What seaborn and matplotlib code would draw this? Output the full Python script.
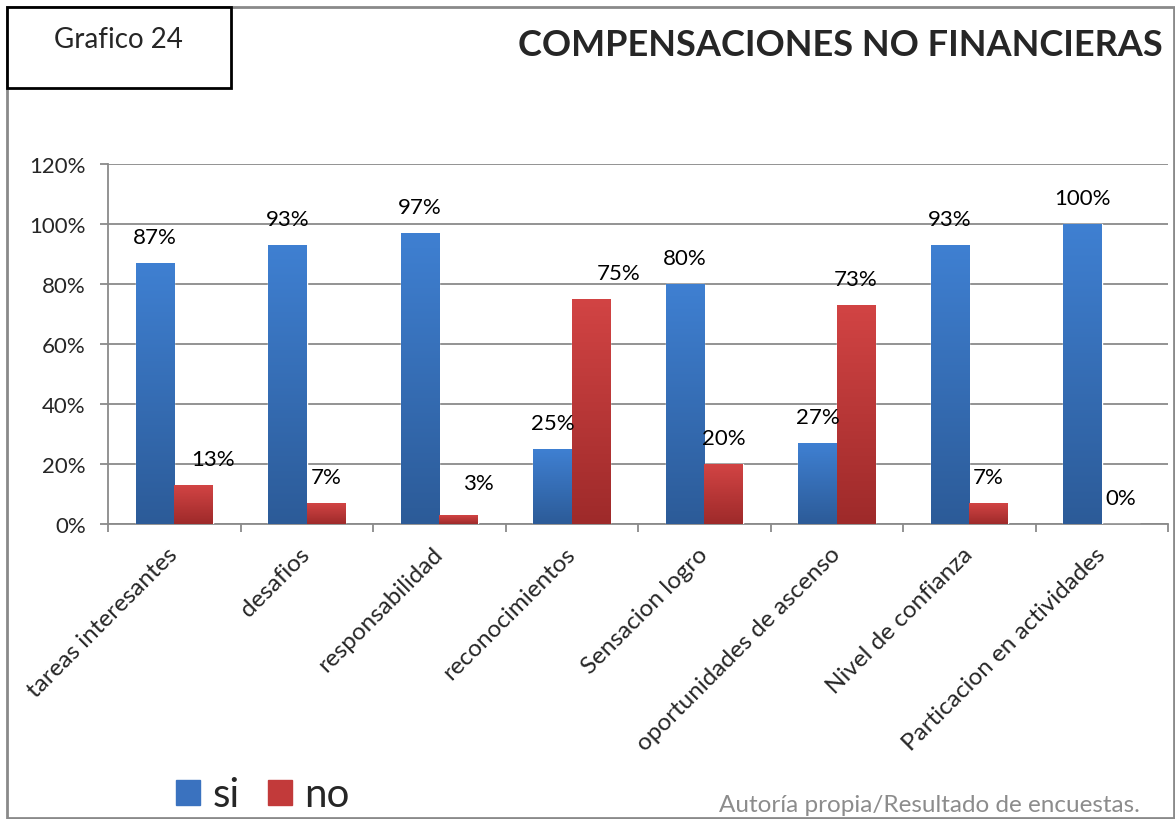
import numpy as np
import pandas as pd
import matplotlib
matplotlib.use("Agg")
import matplotlib.pyplot as plt
import matplotlib.patches as mpatches
from matplotlib.colors import LinearSegmentedColormap
import seaborn as sns

# Survey results per non-financial compensation item (percent of respondents)
categories = [
    "tareas interesantes", "desafios", "responsabilidad", "reconocimientos",
    "Sensacion logro", "oportunidades de ascenso", "Nivel de confianza",
    "Particacion en actividades",
]
si_values = [87, 93, 97, 25, 80, 27, 93, 100]
no_values = [13, 7, 3, 75, 20, 73, 7, 0]
series_names = ["si", "no"]
y_ticks = [0, 20, 40, 60, 80, 100, 120]

title_text = "COMPENSACIONES NO FINANCIERAS"
box_text = "Grafico 24"
source_text = "Autoría propia/Resultado de encuestas."

df = pd.DataFrame({
    "categoria": categories * 2,
    "valor": si_values + no_values,
    "serie": [series_names[0]] * len(categories) + [series_names[1]] * len(categories),
})

sns.set_theme(style="white")
plt.rcParams["font.family"] = ["Lato", "DejaVu Sans"]

W, H = 1175, 820
fig = plt.figure(figsize=(W / 100, H / 100), dpi=100)
fig.patch.set_facecolor("white")


def px(x, y):
    return x / W, 1 - y / H


# Plot area
x0, x1, y0, y1 = 108, 1168, 165, 525
ax = fig.add_axes([x0 / W, (H - y1) / H, (x1 - x0) / W, (y1 - y0) / H])

colors = {"si": "#3a72bf", "no": "#c23a3a"}
sns.barplot(data=df, x="categoria", y="valor", hue="serie", order=categories,
            hue_order=series_names, palette=colors, width=0.58, saturation=1,
            legend=False, ax=ax, zorder=3)

# Vertical gradient on each bar
grad = {
    "si": LinearSegmentedColormap.from_list("si", ["#2c5b98", "#3f80d2"]),
    "no": LinearSegmentedColormap.from_list("no", ["#9e2a2a", "#d24444"]),
}
gimg = np.linspace(0, 1, 256).reshape(-1, 1)
for name, cont in zip(series_names, ax.containers):
    for bar in cont:
        bx, by = bar.get_x(), bar.get_y()
        bw, bh = bar.get_width(), bar.get_height()
        if bh <= 0:
            continue
        im = ax.imshow(gimg, cmap=grad[name], origin="lower", aspect="auto",
                       extent=[bx, bx + bw, by, by + bh], zorder=3.5)
        im.set_clip_path(bar)
ax.set_xlim(-0.5, len(categories) - 0.5)
ax.set_ylim(0, 120)

# Value labels above bars (a few nudged sideways to stay clear of neighbours)
nudge = {("no", 0): (14, 0), ("no", 2): (14, 4), ("no", 3): (20, 0)}
for name, cont, vals in zip(series_names, ax.containers, [si_values, no_values]):
    for i, (bar, v) in enumerate(zip(cont, vals)):
        dx, dy = nudge.get((name, i), (0, 0))
        ax.annotate(f"{v}%", (bar.get_x() + bar.get_width() / 2, v),
                    xytext=(dx, 19 + dy), textcoords="offset points",
                    ha="center", va="center", fontsize=16, color="black",
                    zorder=5, annotation_clip=False)

# Gridlines and axes
ax.set_yticks(y_ticks)
ax.set_yticklabels([f"{t}%" for t in y_ticks])
ax.yaxis.grid(True, color="#8a8a8a", linewidth=1.3, zorder=0)
ax.xaxis.grid(False)
for s in ["top", "right"]:
    ax.spines[s].set_visible(False)
for s in ["left", "bottom"]:
    ax.spines[s].set_color("#8a8a8a")
    ax.spines[s].set_linewidth(1.3)

ax.set_xticks(range(len(categories)))
ax.set_xticklabels(categories, rotation=45, ha="right", va="center",
                   rotation_mode="anchor", fontsize=17.5)
ax.set_xticks(np.arange(-0.5, len(categories), 1), minor=True)
ax.tick_params(axis="x", which="major", length=0, pad=19)
ax.tick_params(axis="x", which="minor", length=6, width=1.3, color="#8a8a8a",
               direction="out", bottom=True)
ax.tick_params(axis="y", which="major", length=6, width=1.3, color="#8a8a8a",
               direction="out", left=True, labelsize=16, pad=10)
ax.set_xlabel("")
ax.set_ylabel("")

# Outer frame and title box
fx, fy = px(7, 8)
fx2, fy2 = px(1174, 819)
fig.patches.append(mpatches.Rectangle((fx, fy2), fx2 - fx, fy - fy2,
                                      transform=fig.transFigure, fill=False,
                                      edgecolor="#8a8a8a", linewidth=2))
bx0, by0 = px(7, 8)
bx1, by1 = px(231, 89)
fig.patches.append(mpatches.Rectangle((bx0, by1), bx1 - bx0, by0 - by1,
                                      transform=fig.transFigure, facecolor="white",
                                      edgecolor="black", linewidth=2, zorder=2))
fig.text(*px(118, 40), box_text, ha="center", va="center", fontsize=20)
fig.text(*px(1163, 46), title_text, ha="right", va="center", fontsize=26,
         fontweight="bold")
fig.text(*px(1140, 806), source_text, ha="right", va="center", fontsize=17.5,
         color="#8c8c8c")

# Legend
handles = [mpatches.Patch(color=colors[n]) for n in series_names]
fig.legend(handles, series_names, loc="center left",
           bbox_to_anchor=px(140, 796), frameon=False, ncol=2, fontsize=29,
           handlelength=0.6, handleheight=0.6, handletextpad=0.3,
           columnspacing=0.7)

fig.savefig("out.png", dpi=100, facecolor="white")
